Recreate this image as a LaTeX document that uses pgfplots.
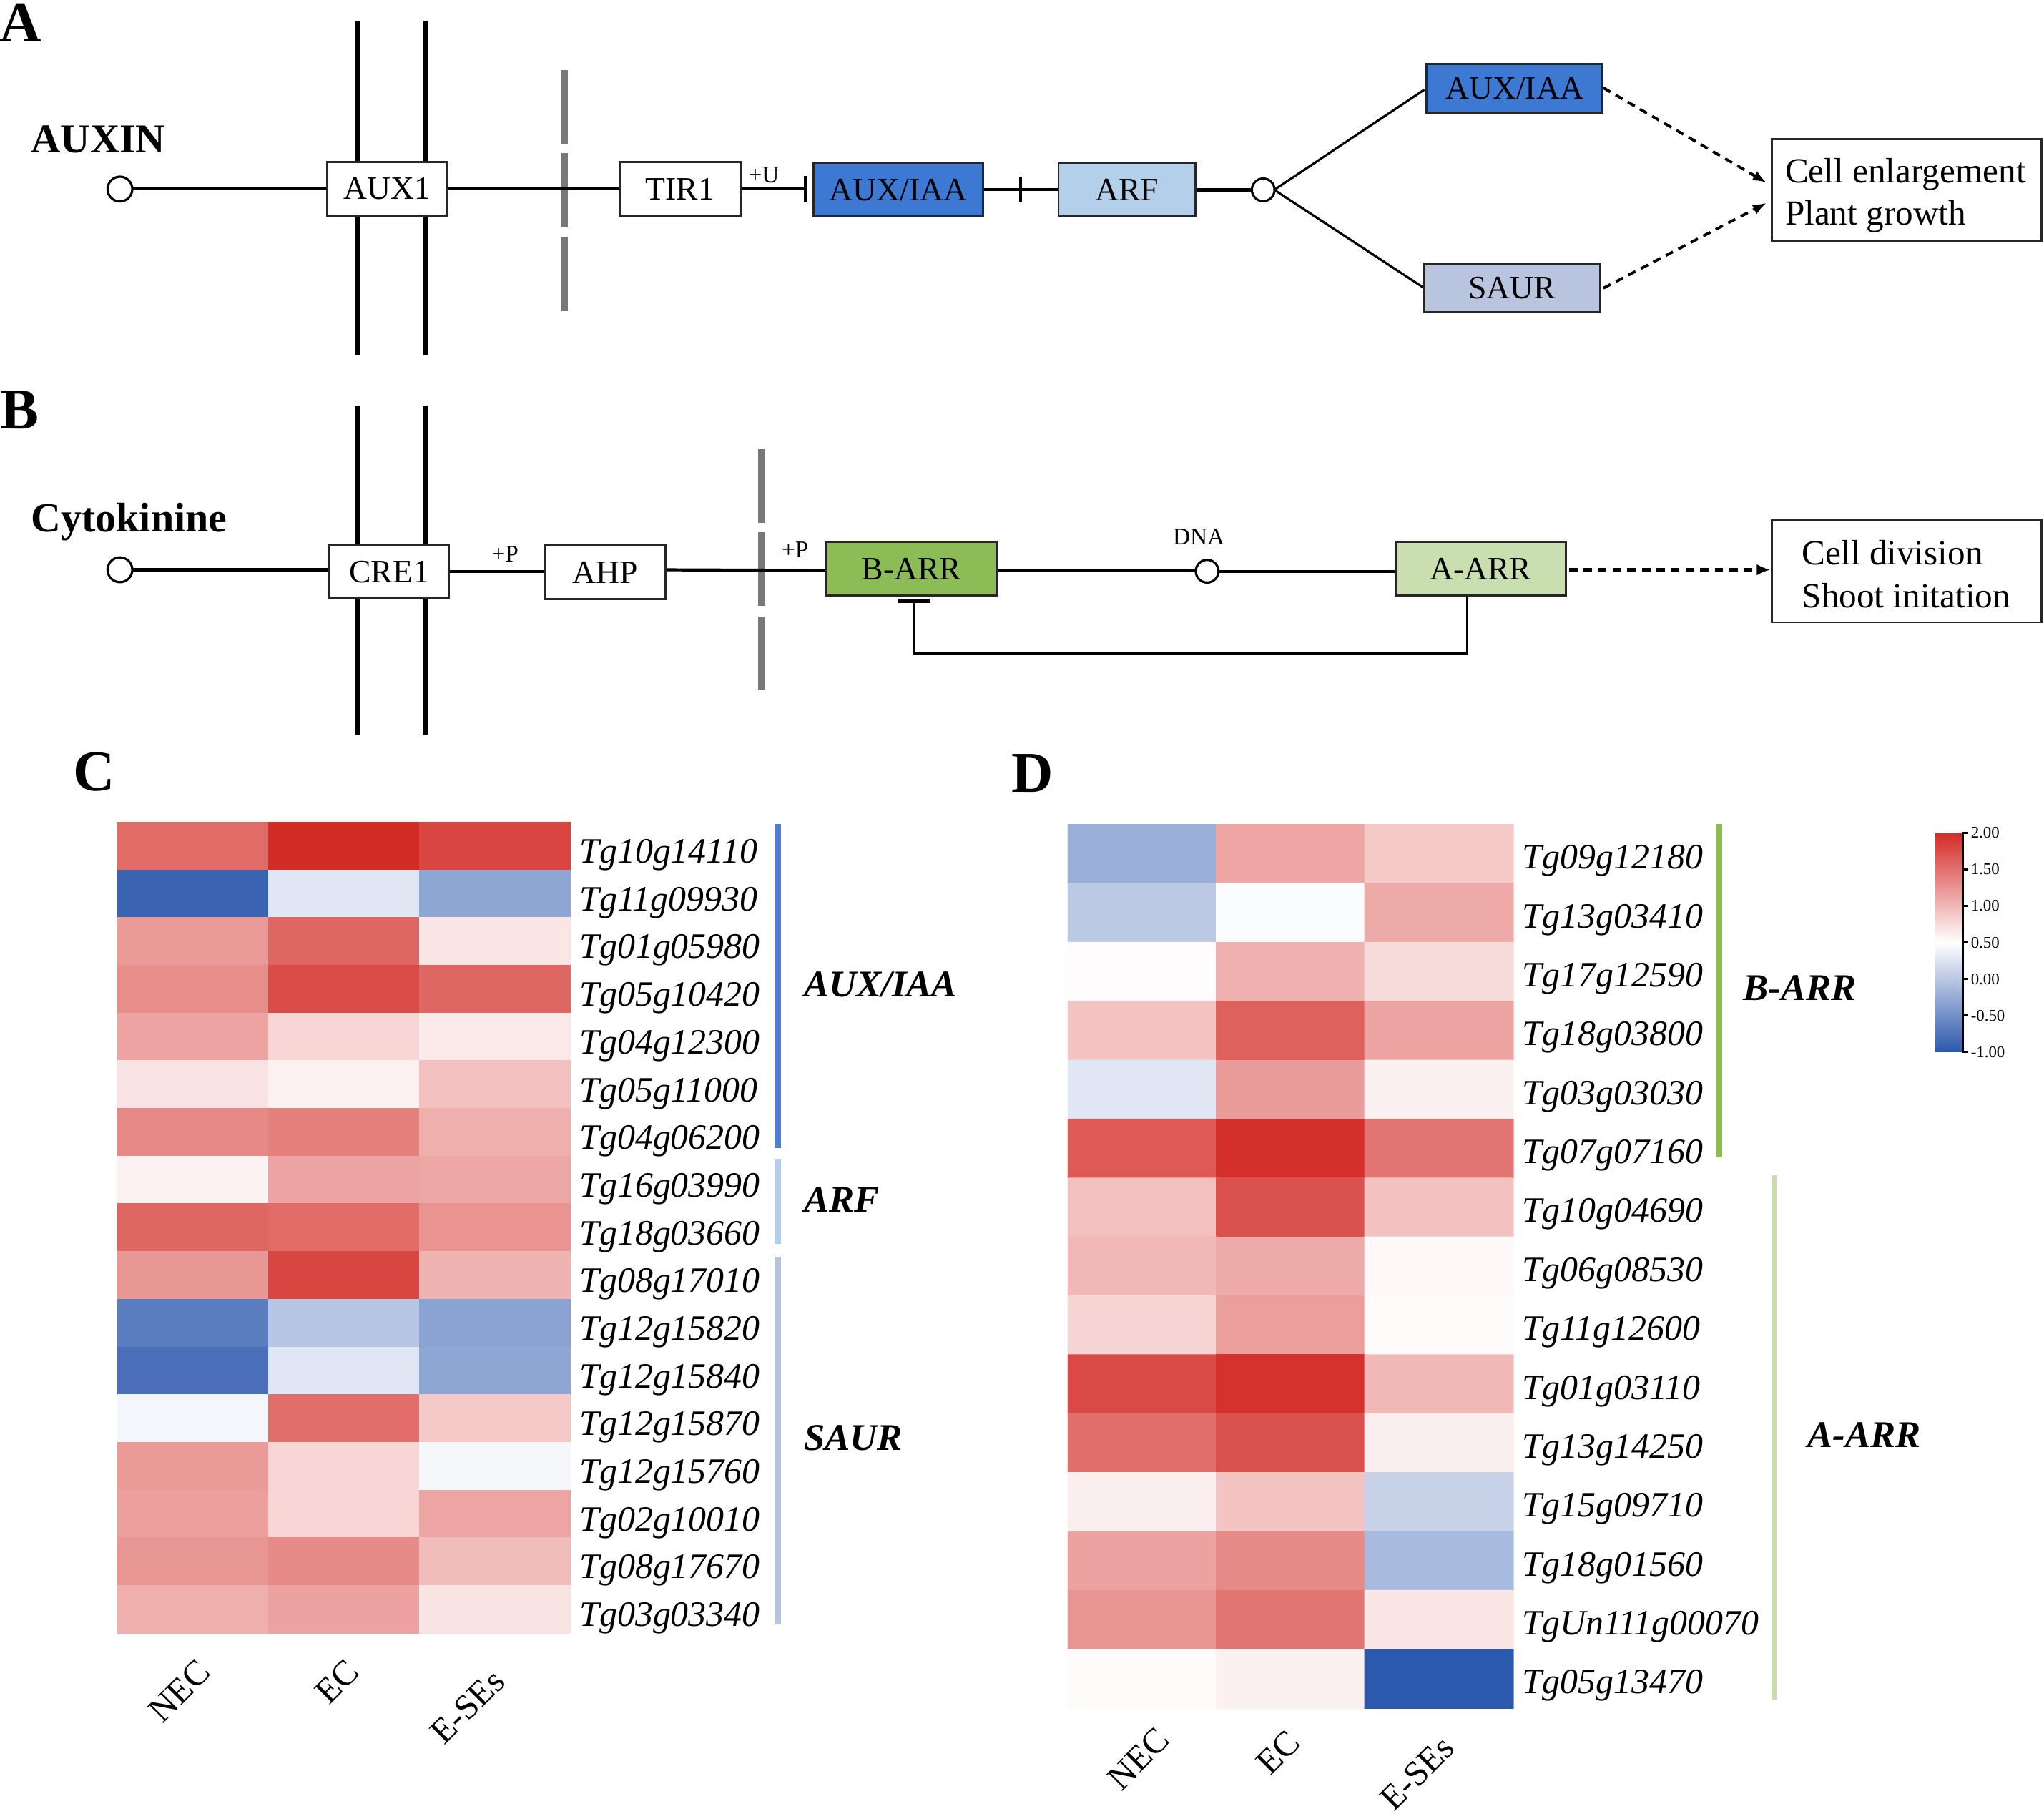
\documentclass[border=0pt]{standalone}
\usepackage{fontspec}
\setmainfont{Liberation Serif}
\usepackage{pgfplots}
\pgfplotsset{compat=1.18}
\usepackage{pgfplotstable}
\usetikzlibrary{arrows.meta}

\definecolor{auxblue}{RGB}{61,121,210}
\definecolor{arfblue}{RGB}{180,207,233}
\definecolor{saurblue}{RGB}{185,197,222}
\definecolor{barrgreen}{RGB}{140,188,85}
\definecolor{aarrgreen}{RGB}{202,223,176}
\definecolor{membgray}{RGB}{120,120,120}
\definecolor{barAUX}{RGB}{74,127,212}
\definecolor{barARF}{RGB}{179,207,238}
\definecolor{barSAUR}{RGB}{181,195,223}
\definecolor{barB}{RGB}{140,189,78}
\definecolor{barA}{RGB}{200,222,175}

\pgfplotsset{
  colormap={bwr}{rgb255(0)=(44,88,173) rgb255(1)=(255,255,255) rgb255(2)=(211,43,38)},
  heat/.style={
    scale only axis, enlargelimits=false,
    xmin=-0.5, xmax=2.5, y dir=reverse,
    point meta min=-1, point meta max=2,
    axis line style={draw=none}, tick style={draw=none},
    major tick length=0pt,
    xtick=\empty, yticklabel pos=right,
    yticklabel style={font=\fontsize{14.2}{14.2}\selectfont\itshape, anchor=west},
  },
}

% log2 expression, columns NEC / EC / E-SEs
\pgfplotstableread{
x y c
0 0 1.55
1 0 2.00
2 0 1.81
0 1 -0.90
1 1 0.28
2 1 -0.30
0 2 1.21
1 2 1.58
2 2 0.68
0 3 1.31
1 3 1.77
2 3 1.58
0 4 1.15
1 4 0.79
2 4 0.65
0 5 0.70
1 5 0.59
2 5 0.95
0 6 1.33
1 6 1.40
2 6 1.07
0 7 0.59
1 7 1.15
2 7 1.12
0 8 1.58
1 8 1.55
2 8 1.26
0 9 1.24
1 9 1.80
2 9 1.03
0 10 -0.67
1 10 -0.01
2 10 -0.33
0 11 -0.79
1 11 0.28
2 11 -0.30
0 12 0.42
1 12 1.53
2 12 0.88
0 13 1.21
1 13 0.79
2 13 0.43
0 14 1.17
1 14 0.79
2 14 1.14
0 15 1.24
1 15 1.32
2 15 0.97
0 16 1.07
1 16 1.16
2 16 0.69
}\heatC

\pgfplotstableread{
x y c
0 0 -0.22
1 0 1.13
2 0 0.88
0 1 0.02
1 1 0.47
2 1 1.10
0 2 0.52
1 2 1.05
2 2 0.76
0 3 0.92
1 3 1.62
2 3 1.15
0 4 0.28
1 4 1.20
2 4 0.60
0 5 1.67
1 5 1.97
2 5 1.48
0 6 0.95
1 6 1.73
2 6 0.93
0 7 1.00
1 7 1.10
2 7 0.55
0 8 0.80
1 8 1.18
2 8 0.53
0 9 1.78
1 9 1.95
2 9 1.00
0 10 1.52
1 10 1.73
2 10 0.62
0 11 0.62
1 11 0.92
2 11 0.10
0 12 1.16
1 12 1.32
2 12 -0.12
0 13 1.25
1 13 1.48
2 13 0.68
0 14 0.53
1 14 0.60
2 14 -1.00
}\heatD

\begin{document}
\begin{tikzpicture}[x=0.18227mm, y=0.18227mm,
  boxline/.style={draw=black!85, line width=0.8pt},
  boxtext/.style={font=\fontsize{13}{13}\selectfont, inner sep=0},
  small/.style={font=\fontsize{9.5}{9.5}\selectfont, inner sep=0},
  letter/.style={font=\fontsize{23}{23}\selectfont\bfseries, inner sep=0},
  grp/.style={font=\fontsize{15}{15}\selectfont\bfseries\itshape, inner sep=0, anchor=west},
  col/.style={font=\fontsize{14}{14}\selectfont, inner sep=0, rotate=45},
  outtext/.style={font=\fontsize{14}{14}\selectfont, inner sep=0, anchor=west}]
\path[use as bounding box] (0,0) rectangle (1568,-1391);
\coordinate (Corig) at (90,-630.7);
\coordinate (Dorig) at (819,-632.4);

% ---------------- A: auxin ----------------
\node[letter] at (15.8,-17.5) {A};
\node[anchor=west, inner sep=0, font=\fontsize{16.3}{16.3}\selectfont\bfseries] at (23.5,-107) {AUXIN};
\draw[line width=2pt] (274,-16) -- (274,-272);
\draw[line width=2pt] (326,-16) -- (326,-272);
\foreach \a/\b in {54/110.4, 117.4/173.8, 181.6/238.4}
  \draw[membgray, line width=2.8pt] (432.8,-\a) -- (432.8,-\b);
\draw[line width=1.2pt] (101.5,-145) -- (618,-145);
\draw[line width=1.3pt] (618,-135) -- (618,-155);
\draw[line width=1.2pt] (754,-145.5) -- (812,-145.5);
\draw[line width=1.3pt] (783,-135.5) -- (783,-155.5);
\draw[line width=1.2pt] (917,-145.6) -- (960.3,-145.6);
\draw[line width=0.9pt] (977.5,-145.6) -- (1092.6,-68.8);
\draw[line width=0.9pt] (977.5,-145.6) -- (1092.6,-221);
\draw[line width=0.9pt, fill=white] (92,-145) circle (9.5);
\draw[line width=0.9pt, fill=white] (969,-145.6) circle (8.7);
\draw[boxline, fill=white] (251.2,-124.3) rectangle (342.7,-165.3);
\node[boxtext] at (297,-144.8) {AUX1};
\draw[boxline, fill=white] (475.3,-124.3) rectangle (568,-165.3);
\node[boxtext] at (521.7,-144.8) {TIR1};
\node[small] at (586,-134) {+U};
\draw[boxline, fill=auxblue] (624,-125) rectangle (754,-166);
\node[boxtext] at (689,-146) {AUX/IAA};
\draw[boxline, fill=arfblue] (812,-125) rectangle (917,-166);
\node[boxtext] at (864.5,-145.5) {ARF};
\draw[boxline, fill=auxblue] (1094.3,-49.1) rectangle (1229.3,-86.4);
\node[boxtext] at (1161.8,-67.7) {AUX/IAA};
\draw[boxline, fill=saurblue] (1092.6,-202) rectangle (1227.4,-239.3);
\node[boxtext] at (1160,-220.6) {SAUR};
\draw[line width=1.1pt, dash pattern=on 3.2pt off 2.4pt, -{Latex[length=1.9mm, width=1.5mm]}]
  (1230,-67.4) -- (1355,-140);
\draw[line width=1.1pt, dash pattern=on 3.2pt off 2.4pt, -{Latex[length=1.9mm, width=1.5mm]}]
  (1230,-221) -- (1355,-155.7);
\draw[boxline, fill=white] (1359,-106.5) rectangle (1566,-184.7);
\node[outtext] at (1369,-133.5) {Cell enlargement};
\node[outtext] at (1369,-166) {Plant growth};

% ---------------- B: cytokinin ----------------
\node[letter] at (15,-314.5) {B};
\node[anchor=base west, inner sep=0, font=\fontsize{16.5}{16.5}\selectfont\bfseries] at (23.5,-408) {Cytokinine};
\draw[line width=2pt] (274,-311.3) -- (274,-563.2);
\draw[line width=2pt] (326,-311.3) -- (326,-563.2);
\foreach \a/\b in {344.4/400.8, 408.1/464.5, 472.7/529.1}
  \draw[membgray, line width=2.8pt] (584.4,-\a) -- (584.4,-\b);
\draw[line width=1.2pt] (101.5,-437) -- (253,-437);
\draw[line width=1.2pt] (344,-438.5) -- (418,-438.5);
\draw[line width=1.2pt] (510,-437) -- (634,-437.5);
\draw[line width=1.2pt] (764.5,-438) -- (917.3,-438);
\draw[line width=1.2pt] (934.7,-438.5) -- (1070.5,-438.5);
\draw[line width=1pt] (1125.4,-456.7) -- (1125.4,-501.3) -- (701.5,-501.3) -- (701.5,-461);
\draw[line width=1.8pt] (689,-461) -- (714,-461);
\draw[line width=0.9pt, fill=white] (92,-437) circle (9.5);
\draw[line width=0.9pt, fill=white] (926,-438.1) circle (8.7);
\node[small] at (919.6,-411.8) {DNA};
\draw[boxline, fill=white] (252.7,-417.8) rectangle (344.3,-459);
\node[boxtext] at (298.5,-438.4) {CRE1};
\node[small] at (387.5,-425) {+P};
\draw[boxline, fill=white] (417.8,-418.5) rectangle (510.4,-459.6);
\node[boxtext] at (464,-439) {AHP};
\node[small] at (610,-421.5) {+P};
\draw[boxline, fill=barrgreen] (634,-415.7) rectangle (764.5,-456.7);
\node[boxtext] at (699.2,-436.2) {B-ARR};
\draw[boxline, fill=aarrgreen] (1070.5,-415.6) rectangle (1201,-456.7);
\node[boxtext] at (1135.8,-436.2) {A-ARR};
\draw[line width=1.5pt, dash pattern=on 3.4pt off 2.4pt, -{Latex[length=1.9mm, width=1.6mm]}]
  (1203.5,-437) -- (1358,-437);
\draw[boxline, fill=white] (1359,-399) rectangle (1566,-477.3);
\node[outtext] at (1382,-424) {Cell division};
\node[outtext] at (1382,-457) {Shoot initation};

% ---------------- C: auxin genes heatmap ----------------
\node[letter] at (72,-592) {C};
\begin{axis}[heat, at={(Corig)}, anchor=north west,
  width=63.39mm, height=113.37mm,
  ymin=-0.5, ymax=16.5, ytick={0,...,16},
  yticklabels={Tg10g14110,Tg11g09930,Tg01g05980,Tg05g10420,Tg04g12300,Tg05g11000,Tg04g06200,Tg16g03990,Tg18g03660,Tg08g17010,Tg12g15820,Tg12g15840,Tg12g15870,Tg12g15760,Tg02g10010,Tg08g17670,Tg03g03340},
  yticklabel style={yshift=-3.5pt}]
\addplot[matrix plot*, mesh/cols=3, point meta=explicit] table[meta=c] {\heatC};
\end{axis}
\draw[barAUX, line width=2.1pt] (597,-631.8) -- (597,-880.5);
\draw[barARF, line width=2.1pt] (597,-888.8) -- (597,-953.8);
\draw[barSAUR, line width=2.1pt] (597,-964.2) -- (597,-1246);
\node[grp] at (616.4,-755) {AUX/IAA};
\node[grp] at (616.4,-920) {ARF};
\node[grp] at (616.4,-1103) {SAUR};
\node[col] at (137.6,-1297) {NEC};
\node[col] at (258.4,-1290) {EC};
\node[col] at (358.7,-1308.8) {E-SEs};

% ---------------- D: cytokinin genes heatmap ----------------
\node[letter] at (792,-593) {D};
\begin{axis}[heat, at={(Dorig)}, anchor=north west,
  width=62.34mm, height=123.56mm,
  ymin=-0.5, ymax=14.5, ytick={0,...,14},
  yticklabels={Tg09g12180,Tg13g03410,Tg17g12590,Tg18g03800,Tg03g03030,Tg07g07160,Tg10g04690,Tg06g08530,Tg11g12600,Tg01g03110,Tg13g14250,Tg15g09710,Tg18g01560,TgUn111g00070,Tg05g13470},
  yticklabel style={yshift=-2.7pt},
  colorbar,
  colorbar style={
    scale only axis,
    at={(parent axis.north east)}, anchor=north west,
    xshift=55.95mm, yshift=-1.17mm,
    width=3.83mm, height=30.64mm,
    axis line style={draw=none},
    ytick={-1,-0.5,0,0.5,1,1.5,2},
    yticklabels={-1.00,-0.50,0.00,0.50,1.00,1.50,2.00},
    ytick pos=right, tick align=outside,
    major tick length=0.75mm,
    ytick style={draw=black, line width=0.8pt},
    yticklabel style={font=\fontsize{6.5}{6.5}\selectfont, inner sep=1pt, anchor=west},
    extra description/.code={\draw[line width=0.9pt] (rel axis cs:1,0) -- (rel axis cs:1,1);},
  }]
\addplot[matrix plot*, mesh/cols=3, point meta=explicit] table[meta=c] {\heatD};
\end{axis}
\draw[barB, line width=2.1pt] (1319,-631.8) -- (1319,-887.7);
\draw[barA, line width=2.1pt] (1361,-901.4) -- (1361,-1303.6);
\node[grp] at (1337,-757.7) {B-ARR};
\node[grp] at (1386.3,-1100.6) {A-ARR};
\node[col] at (873.4,-1349) {NEC};
\node[col] at (980.6,-1344) {EC};
\node[col] at (1087,-1360) {E-SEs};
\end{tikzpicture}
\end{document}
